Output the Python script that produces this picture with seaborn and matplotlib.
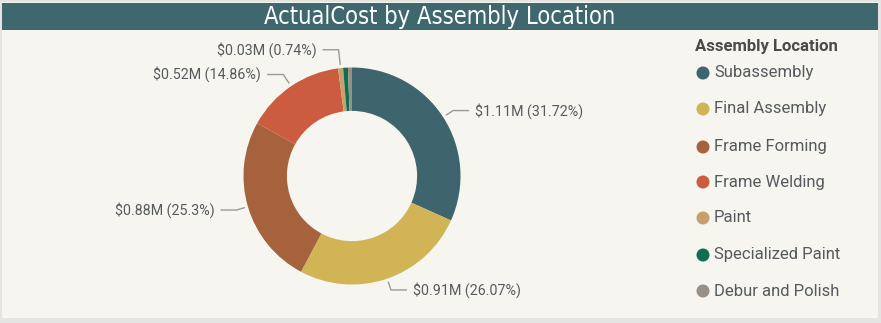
import matplotlib
matplotlib.use("Agg")
import matplotlib.pyplot as plt
from matplotlib.patches import Rectangle
import numpy as np
import seaborn as sns

# --- data -------------------------------------------------------------
locations = ["Subassembly", "Final Assembly", "Frame Forming", "Frame Welding",
             "Paint", "Specialized Paint", "Debur and Polish"]
cost_m = [1.11, 0.91, 0.88, 0.52, 0.03, 0.02, 0.02]
share_pct = [31.72, 26.07, 25.30, 14.86, 0.74, 0.71, 0.60]
labelled = [True, True, True, True, True, False, False]
colors = ["#3E656E", "#D1B455", "#A6623C", "#CB5C40", "#C7A06E", "#0E6E50", "#979087"]

title = "ActualCost by Assembly Location"
legend_title = "Assembly Location"

# --- style ------------------------------------------------------------
sns.set_theme(style="white")
plt.rcParams["font.family"] = ["Roboto", "DejaVu Sans"]

W, H = 881, 323
bg = "#F7F5F0"
bar = "#3F686E"
txt = "#555A5E"

fig = plt.figure(figsize=(W / 100, H / 100), dpi=100)
fig.patch.set_facecolor("#E4E4E2")
ax = fig.add_axes([0, 0, 1, 1])
ax.set_xlim(0, W)
ax.set_ylim(0, H)
ax.axis("off")

# card and title bar (pixel coordinates, y measured upward)
ax.add_patch(Rectangle((2, 5), W - 5, H - 7, facecolor=bg, edgecolor="none", zorder=0))
ax.add_patch(Rectangle((2, H - 30), W - 5, 27, facecolor=bar, edgecolor="none", zorder=1))
ax.text(440, H - 17, title, color="white", fontsize=17, ha="center", va="center",
        family=["DejaVu Sans"], fontstretch="condensed", zorder=2)

# donut
cx, cy, R = 352, H - 176, 108.5
wedges, _ = ax.pie(share_pct, colors=colors, startangle=90, counterclock=False,
                   center=(cx, cy), radius=R, wedgeprops=dict(width=R * 0.4, edgecolor="none"),
                   frame=True)
ax.set_xlim(0, W)
ax.set_ylim(0, H)
ax.axis("off")

# leader lines and data labels
elbow = [1.11, 1.11, 1.11, 1.13, 1.17]
total = sum(share_pct)
start = 0.0
for i, (p, c) in enumerate(zip(share_pct, cost_m)):
    mid = start + p / 2
    start += p
    if not labelled[i]:
        continue
    ang = np.deg2rad(mid / total * 360)
    sx, sy = np.sin(ang), np.cos(ang)
    x0, y0 = cx + sx * R * 1.03, cy + sy * R * 1.03
    x1, y1 = cx + sx * R * elbow[i], cy + sy * R * elbow[i]
    side = 1 if sx > 0 else -1
    x2 = x1 + side * 16
    ax.plot([x0, x1, x2], [y0, y1, y1], color="#9A9A9A", lw=1, solid_capstyle="butt", zorder=3)
    label = f"${c:.2f}M ({p:g}%)"
    ax.text(x2 + side * 6, y1, label, color=txt, fontsize=10.3,
            ha="left" if side > 0 else "right", va="center", zorder=3)

# legend
lx, ly0 = 695, H - 46
ax.text(lx, ly0, legend_title, color="#4A4A4A", fontsize=12, fontweight="bold",
        ha="left", va="center")
legend_y = [73, 109, 147, 182, 218, 255, 291]
for name, col, yy in zip(locations, colors, legend_y):
    ax.scatter([703], [H - yy], s=88, color=col, edgecolors="none", zorder=3)
    ax.text(714, H - yy, name, color=txt, fontsize=12, ha="left", va="center")

fig.savefig("out.png", dpi=100, facecolor=fig.get_facecolor())
